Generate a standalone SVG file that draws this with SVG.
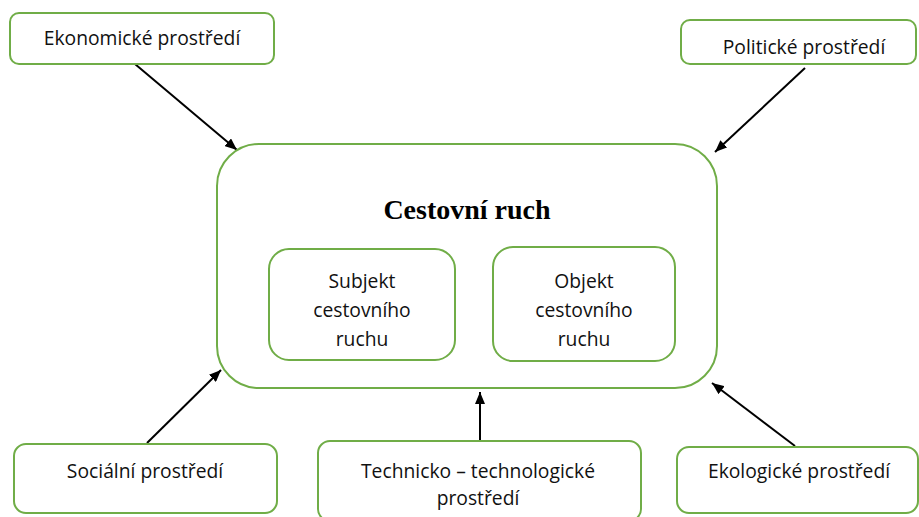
<svg xmlns="http://www.w3.org/2000/svg" width="919" height="517" viewBox="0 0 919 517">
<defs>
<marker id="arr" viewBox="0 0 12 10" refX="12" refY="5" markerWidth="12" markerHeight="10" markerUnits="userSpaceOnUse" orient="auto">
<path d="M0,0 L12,5 L0,10 Z" fill="#000"/>
</marker>
</defs>
<style>
.box{fill:#fff;stroke:#70ad47;stroke-width:2}
.t{font-family:"Open Sans","Liberation Sans",sans-serif;font-size:19.3px;fill:#111;text-anchor:middle}
.title{font-family:"Liberation Serif","Times New Roman",serif;font-size:28px;font-weight:bold;fill:#000;text-anchor:middle}
.c{stroke:#000;stroke-width:2;fill:none;marker-end:url(#arr)}
</style>
<rect width="919" height="517" fill="#fff"/>
<g id="connectors">
<line class="c" x1="135" y1="64" x2="237" y2="150"/>
<line class="c" x1="805" y1="68" x2="715" y2="152"/>
<line class="c" x1="147" y1="443" x2="221" y2="370"/>
<line class="c" x1="480" y1="443" x2="480" y2="392"/>
<line class="c" x1="795" y1="446" x2="712" y2="383"/>
</g>
<g id="ekonomicke">
<rect class="box" x="10" y="13" width="264" height="51" rx="9"/>
<text class="t" x="142" y="45">Ekonomické prostředí</text>
</g>
<g id="politicke">
<rect class="box" x="681" y="20" width="235" height="44" rx="9"/>
<text class="t" x="804" y="54">Politické prostředí</text>
</g>
<g id="cestovni-ruch">
<rect class="box" x="217" y="144" width="500" height="244" rx="42"/>
<text class="title" x="467" y="219">Cestovní ruch</text>
</g>
<g id="subjekt">
<rect class="box" x="269" y="249" width="186" height="111" rx="20"/>
<text class="t" x="362" y="288">Subjekt</text>
<text class="t" x="362" y="317">cestovního</text>
<text class="t" x="362" y="346">ruchu</text>
</g>
<g id="objekt">
<rect class="box" x="493" y="247" width="182" height="114" rx="20"/>
<text class="t" x="584" y="288">Objekt</text>
<text class="t" x="584" y="317">cestovního</text>
<text class="t" x="584" y="346">ruchu</text>
</g>
<g id="socialni">
<rect class="box" x="14" y="444" width="263" height="69" rx="12"/>
<text class="t" x="145" y="478">Sociální prostředí</text>
</g>
<g id="technicko">
<rect class="box" x="318" y="441" width="323" height="80" rx="12"/>
<text class="t" x="478" y="478">Technicko – technologické</text>
<text class="t" x="478" y="505">prostředí</text>
</g>
<g id="ekologicke">
<rect class="box" x="677" y="447" width="241" height="66" rx="12"/>
<text class="t" x="799" y="478">Ekologické prostředí</text>
</g>
</svg>
